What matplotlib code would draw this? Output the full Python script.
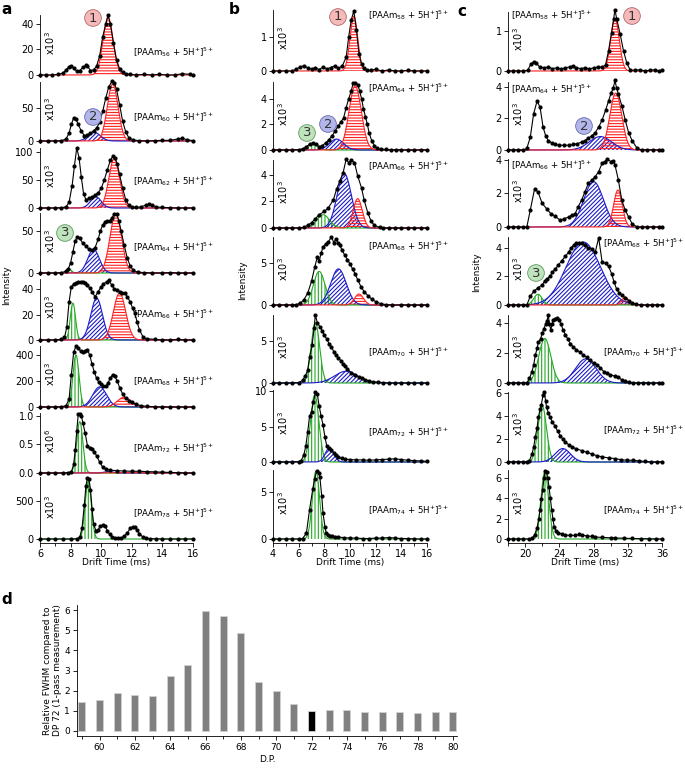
import numpy as np
import matplotlib
matplotlib.use("Agg")
import matplotlib.pyplot as plt
from matplotlib.ticker import MultipleLocator

W, H = 685, 769

plt.rcParams.update({
    "font.family": "DejaVu Sans",
    "font.size": 6.5,
    "mathtext.default": "regular",
    "hatch.linewidth": 0.8,
    "axes.linewidth": 0.6,
    "xtick.major.width": 0.6,
    "ytick.major.width": 0.6,
    "xtick.minor.width": 0.6,
    "ytick.minor.width": 0.6,
    "xtick.major.size": 3,
    "ytick.major.size": 3,
    "xtick.minor.size": 2,
    "xtick.labelsize": 7,
    "ytick.labelsize": 7,
})

# ── Data: column a (5+ ions, drift time 6-16 ms) ──────────────────────────────
# fits: (population, centre, sigma, height)
A56_T = [6.0, 6.4, 6.8, 7.2, 7.5, 7.7, 7.9, 8.0, 8.2, 8.4, 8.6, 8.8, 9.0, 9.1, 9.3, 9.5, 9.7, 9.9,
         10.1, 10.3, 10.45, 10.6, 10.8, 11.0, 11.2, 11.4, 11.6, 11.9, 12.3, 12.8, 13.3, 13.8, 14.3,
         14.8, 15.3, 15.8, 16.0]
A56_I = [0, 0, 0, 0.5, 1.5, 4, 6.5, 7, 5.5, 3, 3.5, 6, 7.5, 7, 3.5, 4, 7, 15,
         30, 40, 47, 40, 25, 12, 5, 2, 1, 0.5, 0, 0.5, 0, 0.5, 0,
         0, 1, 0.5, 0]
A56_FITS = [(1, 10.45, 0.33, 45)]

A60_T = [6.0, 6.5, 7.0, 7.4, 7.7, 7.9, 8.05, 8.2, 8.35, 8.5, 8.7, 8.9, 9.1, 9.3, 9.5, 9.7, 9.9,
         10.1, 10.3, 10.5, 10.7, 10.85, 11.0, 11.2, 11.4, 11.6, 11.8, 12.1, 12.5, 13.0, 13.5, 14.0,
         14.5, 15.0, 15.3, 15.6, 16.0]
A60_I = [0, 0, 0, 0.5, 3, 12, 25, 35, 33, 25, 15, 8, 9, 12, 15, 20, 28,
         45, 65, 82, 90, 88, 78, 55, 30, 14, 5, 1.5, 0.5, 0, 0.5, 1,
         1, 3, 4, 2, 0.5]
A60_FITS = [(2, 9.55, 0.4, 13), (1, 10.75, 0.35, 86)]

A62_T = [6.0, 6.5, 7.0, 7.4, 7.7, 7.9, 8.1, 8.25, 8.4, 8.55, 8.7, 8.85, 9.0, 9.2, 9.4, 9.6, 9.8,
         10.0, 10.2, 10.4, 10.6, 10.75, 10.9, 11.05, 11.2, 11.4, 11.6, 11.8, 12.0, 12.3, 12.6,
         12.9, 13.1, 13.3, 13.6, 14.0, 14.5, 15.0, 15.5, 16.0]
A62_I = [0, 0, 0, 0.5, 2, 10, 40, 75, 107, 90, 55, 25, 15, 17, 20, 23, 27,
         35, 50, 68, 85, 92, 90, 78, 60, 35, 15, 5, 2, 1, 2,
         5, 7, 6, 2, 1, 0.5, 0, 0, 0]
A62_FITS = [(2, 9.65, 0.35, 20), (1, 10.85, 0.35, 88)]

A64_T = [6.0, 6.5, 7.0, 7.4, 7.7, 7.85, 8.0, 8.15, 8.3, 8.45, 8.6, 8.8, 9.0, 9.2, 9.4, 9.6, 9.8,
         9.95, 10.1, 10.25, 10.4, 10.55, 10.7, 10.85, 11.0, 11.15, 11.3, 11.5, 11.7, 11.9, 12.1,
         12.4, 12.8, 13.3, 14.0, 14.5, 15.0, 15.5, 16.0]
A64_I = [0, 0, 0, 0.5, 2, 5, 12, 25, 38, 43, 41, 35, 32, 28, 27, 30, 40,
         50, 57, 60, 62, 62, 65, 70, 70, 62, 50, 33, 18, 8, 3,
         1, 0.5, 0, 0, 0.5, 0, 0, 0]
A64_FITS = [(3, 7.9, 0.15, 5), (2, 9.5, 0.38, 28), (1, 10.95, 0.38, 70)]

A66_T = [6.0, 6.5, 7.0, 7.4, 7.6, 7.75, 7.9, 8.05, 8.2, 8.35, 8.5, 8.65, 8.8, 8.95, 9.1, 9.25,
         9.4, 9.6, 9.8, 10.0, 10.15, 10.35, 10.5, 10.7, 10.85, 11.0, 11.2, 11.35, 11.55, 11.7,
         11.9, 12.05, 12.2, 12.35, 12.5, 12.75, 13.0, 13.5, 14.0, 14.5, 15.0, 15.5, 16.0]
A66_I = [0, 0, 0, 0.5, 2, 10, 30, 42, 44, 45, 46, 46, 46, 45, 43, 41,
         38, 34, 38, 42, 44, 46, 47, 43, 40, 39, 38, 37, 37, 34,
         30, 25, 21, 14, 8, 2, 1, 0.5, 0, 0, 0.5, 0, 0]
A66_FITS = [(3, 8.15, 0.17, 29), (2, 9.7, 0.38, 33), (1, 11.2, 0.4, 37)]

A68_T = [6, 6.5, 7, 7.4, 7.7, 7.9, 8.05, 8.2, 8.35, 8.5, 8.65, 8.8, 8.95, 9.1, 9.25, 9.4, 9.55,
         9.7, 9.85, 10.0, 10.15, 10.3, 10.45, 10.6, 10.75, 10.9, 11.05, 11.2, 11.4, 11.6, 11.8,
         12.0, 12.3, 12.6, 13.0, 13.5, 14, 14.5, 15, 15.5, 16]
A68_I = [0, 0, 0, 2, 10, 60, 250, 420, 470, 455, 430, 420, 435, 440, 400, 330, 270,
         220, 190, 175, 160, 160, 185, 225, 250, 235, 200, 150, 100, 70, 50,
         35, 20, 10, 5, 2, 0, 0, 0, 0, 0]
A68_FITS = [(3, 8.35, 0.2, 400), (2, 9.9, 0.45, 155), (1, 11.5, 0.45, 75)]

A72_T = [6, 6.5, 7, 7.5, 7.8, 8.05, 8.2, 8.3, 8.4, 8.5, 8.6, 8.7, 8.8, 8.95, 9.1, 9.25, 9.4,
         9.55, 9.7, 9.9, 10.1, 10.3, 10.6, 11, 11.5, 12, 12.5, 13, 13.5, 14, 14.5, 15, 15.5, 16]
A72_I = [0, 0, 0, 0, 0.005, 0.02, 0.15, 0.4, 0.73, 1.03, 1.04, 1.0, 0.88, 0.7, 0.48, 0.43, 0.42,
         0.37, 0.3, 0.19, 0.1, 0.07, 0.05, 0.04, 0.035, 0.03, 0.03, 0.025, 0.02, 0.015, 0.01,
         0.005, 0, 0]
A72_FITS = [(3, 8.6, 0.2, 0.9), (2, 10.5, 0.3, 0.025), (1, 11.5, 0.5, 0.008)]

A78_T = [6, 6.5, 7, 7.5, 8, 8.4, 8.6, 8.75, 8.9, 9.0, 9.1, 9.2, 9.3, 9.4, 9.5, 9.65, 9.8, 9.95,
         10.1, 10.25, 10.4, 10.55, 10.7, 10.9, 11.1, 11.3, 11.5, 11.7, 11.9, 12.05, 12.2, 12.35,
         12.5, 12.7, 12.9, 13.2, 13.6, 14, 14.5, 15, 15.5, 16]
A78_I = [0, 0, 0, 0, 0, 2, 20, 150, 450, 700, 800, 790, 650, 400, 200, 110, 120, 170,
         185, 170, 110, 60, 30, 15, 12, 15, 35, 80, 140, 160, 155, 120,
         70, 30, 10, 5, 2, 0, 0, 0, 0, 0]
A78_FITS = [(3, 9.15, 0.2, 760)]

# ── Data: column b (drift time 4-16 ms) ───────────────────────────────────────
B58_T = [4, 4.5, 5, 5.5, 5.8, 6.1, 6.4, 6.7, 7.0, 7.3, 7.6, 7.9, 8.2, 8.5, 8.8, 9.1, 9.4, 9.7,
         9.9, 10.1, 10.3, 10.5, 10.7, 10.9, 11.1, 11.3, 11.6, 12, 12.5, 13, 13.5, 14, 14.5, 15,
         15.5, 16]
B58_I = [0, 0, 0, 0, 0.05, 0.12, 0.15, 0.1, 0.05, 0.1, 0.04, 0.12, 0.06, 0.1, 0.15, 0.08, 0.15, 0.4,
         1.0, 1.5, 1.75, 1.2, 0.5, 0.2, 0.08, 0.04, 0.02, 0.05, 0, 0.03, 0, 0, 0.02, 0,
         0, 0]
B58_FITS = [(1, 10.3, 0.3, 1.6)]

B64_T = [4, 4.5, 5, 5.5, 6, 6.3, 6.6, 6.85, 7.1, 7.35, 7.6, 7.85, 8.1, 8.35, 8.6, 8.85, 9.1,
         9.3, 9.5, 9.7, 9.9, 10.1, 10.25, 10.4, 10.6, 10.75, 10.9, 11.05, 11.2, 11.35, 11.5,
         11.7, 11.9, 12.1, 12.4, 12.8, 13.2, 13.6, 14, 14.5, 15, 15.5, 16]
B64_I = [0, 0, 0, 0, 0.03, 0.08, 0.25, 0.45, 0.55, 0.45, 0.25, 0.35, 0.55, 0.8, 1.1, 1.5, 1.9,
         2.2, 2.5, 3.3, 4.0, 4.6, 5.25, 5.25, 5.1, 4.6, 4.0, 3.2, 2.6, 2.0, 1.3,
         0.7, 0.35, 0.12, 0.05, 0.05, 0, 0.02, 0, 0, 0, 0, 0]
B64_FITS = [(3, 7.1, 0.4, 0.5), (2, 8.95, 0.55, 0.85), (1, 10.4, 0.48, 5.0)]

B66_T = [4, 4.5, 5, 5.5, 6, 6.4, 6.7, 7.0, 7.3, 7.6, 8.0, 8.3, 8.7, 8.95, 9.2, 9.45, 9.7, 9.9,
         10.1, 10.35, 10.6, 10.9, 11.1, 11.4, 11.65, 11.9, 12.3, 12.6, 13, 13.5, 14, 14.5, 15,
         15.5, 16]
B66_I = [0, 0, 0, 0, 0, 0.05, 0.2, 0.4, 0.7, 1.0, 1.25, 1.5, 2.1, 2.9, 3.5, 4.1, 5.15, 4.9,
         5.1, 4.9, 3.9, 3.0, 2.1, 1.1, 0.5, 0.2, 0.05, 0, 0, 0, 0, 0, 0,
         0, 0]
B66_FITS = [(3, 7.9, 0.5, 1.0), (2, 9.55, 0.55, 4.1), (1, 10.6, 0.35, 2.2)]

B68_T = [4, 4.5, 5, 5.5, 5.8, 6.1, 6.4, 6.7, 7.0, 7.25, 7.45, 7.6, 7.75, 7.9, 8.1, 8.3, 8.55,
         8.75, 8.9, 9.05, 9.2, 9.4, 9.6, 9.8, 10.0, 10.2, 10.4, 10.6, 10.85, 11.1, 11.4, 11.7,
         12.0, 12.4, 12.8, 13.3, 14, 14.5, 15, 15.5, 16]
B68_I = [0, 0, 0, 0, 0.05, 0.2, 0.6, 1.4, 2.8, 4.5, 5.7, 5.2, 6.2, 6.9, 7.3, 7.5, 8.1,
         7.4, 7.9, 7.4, 7.1, 6.5, 5.9, 5.4, 4.9, 4.3, 3.7, 3.0, 2.2, 1.6, 1.1, 0.7,
         0.4, 0.15, 0.05, 0, 0, 0, 0, 0, 0]
B68_FITS = [(3, 7.6, 0.45, 4.0), (2, 9.1, 0.6, 4.3), (1, 10.7, 0.35, 1.3)]

B70_T = [4, 4.5, 5, 5.5, 6, 6.3, 6.5, 6.7, 6.85, 7.05, 7.2, 7.3, 7.45, 7.65, 7.85, 8.0, 8.2,
         8.4, 8.55, 8.75, 8.9, 9.1, 9.3, 9.45, 9.6, 9.8, 10.1, 10.4, 10.7, 10.9, 11.2, 11.5,
         11.8, 12.2, 12.6, 13, 13.5, 14, 14.5, 15, 15.5, 16]
B70_I = [0, 0, 0, 0, 0.05, 0.3, 0.8, 1.5, 3.1, 4.5, 6.5, 8.1, 7.2, 6.7, 6.2, 5.7, 5.2,
         4.6, 4.3, 3.7, 3.3, 3.0, 2.6, 2.3, 2.0, 1.7, 1.2, 0.9, 0.7, 0.6, 0.4, 0.25,
         0.15, 0.1, 0.05, 0, 0, 0, 0, 0, 0, 0]
B70_FITS = [(3, 7.3, 0.33, 7.2), (2, 9.7, 0.9, 1.4)]

B72_T = [4, 4.5, 5, 5.5, 6, 6.2, 6.4, 6.55, 6.7, 6.85, 7.0, 7.15, 7.3, 7.45, 7.6, 7.75, 7.9,
         8.05, 8.2, 8.35, 8.55, 8.75, 8.9, 9.1, 9.35, 9.6, 10, 10.5, 11, 11.5, 12, 12.5, 13,
         13.5, 14, 14.5, 15, 15.5, 16]
B72_I = [0, 0, 0, 0, 0.05, 0.2, 1.0, 2.2, 4.2, 6.5, 7.1, 8.5, 9.9, 9.6, 7.9, 6.5, 5.2,
         3.5, 2.2, 2.0, 1.7, 1.3, 1.0, 0.7, 0.5, 0.4, 0.35, 0.3, 0.3, 0.25, 0.3, 0.35, 0.4,
         0.45, 0.35, 0.25, 0.2, 0.15, 0.1]
B72_FITS = [(3, 7.25, 0.33, 9.5), (2, 8.4, 0.33, 2.0)]

B74_T = [4, 4.5, 5, 5.5, 6, 6.3, 6.6, 6.85, 7.1, 7.25, 7.4, 7.55, 7.65, 7.8, 7.9, 8.05, 8.15,
         8.3, 8.45, 8.6, 8.8, 9.1, 9.5, 10, 10.5, 11, 11.5, 12, 12.5, 13, 13.5, 14, 14.5, 15,
         15.5, 16]
B74_I = [0, 0, 0, 0, 0, 0.05, 0.6, 3.1, 5.3, 6.4, 7.2, 7.0, 6.6, 4.5, 2.7, 1.3, 0.6,
         0.4, 0.35, 0.3, 0.25, 0.2, 0.15, 0.1, 0.1, 0.05, 0.05, 0.1, 0.1, 0.15, 0.1, 0.05, 0.05, 0,
         0, 0]
B74_FITS = [(3, 7.35, 0.28, 7.2)]

# ── Data: column c (drift time 18-36 ms) ──────────────────────────────────────
C58_T = [18, 18.6, 19.2, 19.8, 20.3, 20.7, 21.0, 21.3, 21.7, 22.2, 22.7, 23.2, 23.7, 24.2, 24.7,
         25.2, 25.6, 26.0, 26.5, 27.0, 27.5, 28.0, 28.5, 29.0, 29.4, 29.75, 30.1, 30.35, 30.5,
         30.7, 31.1, 31.5, 31.9, 32.3, 32.8, 33.4, 34.0, 34.6, 35.2, 35.6, 36]
C58_I = [0, 0, 0, 0, 0.02, 0.18, 0.23, 0.2, 0.1, 0.08, 0.1, 0.06, 0.08, 0.05, 0.08,
         0.1, 0.13, 0.08, 0.06, 0.08, 0.05, 0.08, 0.1, 0.1, 0.15, 0.5, 0.95, 1.3, 1.53,
         1.3, 0.93, 0.5, 0.19, 0.02, 0.02, 0.03, 0, 0.02, 0.03, 0, 0.02]
C58_FITS = [(1, 30.5, 0.5, 1.3)]

C64_T = [18, 18.6, 19.2, 19.8, 20.2, 20.6, 21.0, 21.4, 21.75, 22.1, 22.4, 22.7, 23.1, 23.5, 24.0,
         24.5, 25.1, 25.6, 26.1, 26.6, 27.0, 27.4, 27.8, 28.2, 28.6, 29.0, 29.4, 29.75, 30.05,
         30.3, 30.5, 30.7, 30.9, 31.3, 31.7, 32.1, 32.5, 33.1, 33.7, 34.3, 35, 35.6, 36]
C64_I = [0, 0, 0, 0, 0.1, 0.8, 2.3, 3.1, 2.7, 1.45, 0.9, 0.6, 0.45, 0.35, 0.3,
         0.3, 0.3, 0.35, 0.4, 0.5, 0.6, 0.75, 0.9, 1.1, 1.45, 1.9, 2.5, 3.1, 3.6,
         3.9, 4.4, 3.9, 3.55, 2.8, 1.9, 1.1, 0.6, 0.1, 0, 0.02, 0, 0, 0]
C64_FITS = [(2, 28.8, 1.3, 0.85), (1, 30.6, 0.7, 3.6)]

C66_T = [18, 18.6, 19.2, 19.8, 20.2, 20.6, 21.1, 21.5, 22.0, 22.5, 23.0, 23.5, 24.1, 24.6, 25.1,
         25.5, 25.85, 26.2, 26.6, 27.0, 27.4, 27.8, 28.2, 28.6, 29.0, 29.3, 29.6, 30.0, 30.3,
         30.5, 30.9, 31.3, 31.7, 32.1, 32.5, 33.1, 33.7, 34.3, 35, 35.6, 36]
C66_I = [0, 0, 0, 0, 0, 1.0, 2.25, 2.1, 1.4, 1.1, 0.8, 0.65, 0.4, 0.5, 0.6,
         0.7, 0.8, 1.2, 1.6, 2.1, 2.6, 2.8, 3.0, 3.3, 3.8, 3.9, 4.05, 3.9, 3.95,
         3.7, 2.8, 1.6, 1.0, 0.6, 0.2, 0, 0, 0, 0, 0, 0]
C66_FITS = [(2, 28.0, 1.15, 2.7), (1, 30.85, 0.5, 2.2)]

C68_T = [18, 18.6, 19.2, 19.8, 20.2, 20.6, 21.0, 21.5, 22.0, 22.3, 22.6, 22.9, 23.2, 23.5, 23.9,
         24.3, 24.7, 25.1, 25.4, 25.7, 26.0, 26.3, 26.6, 27.0, 27.4, 27.8, 28.2, 28.6, 29.0,
         29.4, 29.75, 30.1, 30.4, 30.7, 31.0, 31.3, 31.7, 32.1, 32.5, 33, 33.6, 34.2, 34.8,
         35.4, 36]
C68_I = [0, 0, 0, 0, 0, 0.6, 0.95, 1.2, 1.4, 1.7, 1.85, 2.0, 2.3, 2.5, 2.8,
         3.1, 3.4, 3.7, 4.0, 4.2, 4.3, 4.3, 4.3, 4.2, 4.0, 3.9, 3.7, 4.7, 3.0,
         2.9, 2.7, 2.2, 1.6, 1.1, 0.85, 0.7, 0.5, 0.3, 0.15, 0.05, 0, 0, 0,
         0, 0]
C68_FITS = [(3, 21.5, 0.5, 0.75), (2, 26.8, 2.0, 4.4), (1, 31.7, 0.4, 0.55)]

C70_T = [18, 18.6, 19.2, 19.8, 20.2, 20.5, 20.8, 21.0, 21.2, 21.4, 21.55, 21.8, 22.0, 22.2,
         22.4, 22.55, 22.7, 22.85, 23.0, 23.15, 23.3, 23.5, 23.7, 23.95, 24.2, 24.45, 24.7,
         25.0, 25.3, 25.6, 26.0, 26.4, 26.8, 27.2, 27.6, 28.0, 28.4, 28.8, 29.2, 29.6, 29.95,
         30.5, 30.9, 31.3, 31.7, 32.1, 32.6, 33.2, 33.8, 34.4, 35, 35.6, 36]
C70_I = [0, 0, 0, 0, 0, 0.3, 0.75, 1.2, 1.85, 2.3, 2.7, 2.9, 3.3, 3.6,
         3.9, 4.1, 4.5, 3.9, 3.5, 3.9, 4.2, 4.25, 4.3, 4.15, 3.9, 3.5, 3.2,
         2.9, 2.6, 2.4, 2.2, 2.05, 1.85, 1.7, 1.5, 1.35, 1.2, 1.0, 0.75, 0.65, 0.55,
         0.45, 0.4, 0.2, 0.12, 0.05, 0, 0, 0, 0, 0, 0, 0]
C70_FITS = [(3, 22.3, 0.7, 2.95), (2, 27.1, 1.2, 1.6)]

C72_T = [18, 18.6, 19.2, 19.8, 20.2, 20.5, 20.8, 21.0, 21.2, 21.4, 21.55, 21.75, 21.9, 22.1,
         22.25, 22.4, 22.5, 22.7, 22.9, 23.2, 23.5, 23.8, 24.1, 24.4, 24.7, 25.1, 25.5, 26.0,
         26.6, 27.2, 27.8, 28.4, 29.0, 29.8, 30.5, 31.2, 31.9, 32.6, 33.3, 34, 34.7, 35.4, 36]
C72_I = [0, 0, 0, 0, 0, 0.1, 0.7, 1.3, 2.2, 3.0, 3.9, 4.6, 5.0, 5.85,
         6.1, 5.3, 4.8, 4.3, 3.9, 3.5, 3.1, 2.7, 2.3, 2.0, 1.75, 1.5, 1.3, 1.15,
         1.0, 0.85, 0.7, 0.55, 0.45, 0.35, 0.3, 0.2, 0.15, 0.15, 0.1, 0.05, 0, 0, 0]
C72_FITS = [(3, 22.0, 0.5, 4.9), (2, 24.4, 0.9, 1.17)]

C74_T = [18, 18.6, 19.2, 19.8, 20.4, 20.8, 21.1, 21.4, 21.6, 21.75, 21.9, 22.05, 22.2, 22.35,
         22.5, 22.65, 22.8, 22.95, 23.1, 23.25, 23.4, 23.6, 23.9, 24.3, 24.7, 25.2, 25.85,
         26.3, 26.6, 27.2, 27.8, 28.2, 29, 30, 30.5, 31.5, 32.5, 33.5, 34.5, 35.3, 36]
C74_I = [0, 0, 0, 0, 0, 0.05, 0.4, 1.1, 2.0, 2.9, 3.9, 4.8, 6.0, 6.7,
         6.6, 6.0, 5.1, 4.0, 2.9, 2.0, 1.2, 0.8, 0.6, 0.5, 0.4, 0.35, 0.35,
         0.45, 0.4, 0.3, 0.25, 0.2, 0.15, 0.12, 0.1, 0.08, 0.05, 0.03, 0.02, 0, 0]
C74_FITS = [(3, 22.3, 0.45, 6.6)]

# ── Data: panel d ─────────────────────────────────────────────────────────────
DP = [59, 60, 61, 62, 63, 64, 65, 66, 67, 68, 69, 70, 71, 72, 73, 74, 75, 76, 77, 78, 79, 80]
REL_FWHM = [1.45, 1.52, 1.88, 1.8, 1.72, 2.73, 3.27, 5.97, 5.7, 4.88, 2.45, 1.98, 1.35, 1.0,
            1.05, 1.05, 0.92, 0.92, 0.92, 0.9, 0.95, 0.95]
REF_DP = 72

A_DP = [56, 60, 62, 64, 66, 68, 72, 78]
B_DP = [58, 64, 66, 68, 70, 72, 74]
C_DP = [58, 64, 66, 68, 70, 72, 74]
A_TRACES = [(A56_T, A56_I, A56_FITS), (A60_T, A60_I, A60_FITS), (A62_T, A62_I, A62_FITS),
            (A64_T, A64_I, A64_FITS), (A66_T, A66_I, A66_FITS), (A68_T, A68_I, A68_FITS),
            (A72_T, A72_I, A72_FITS), (A78_T, A78_I, A78_FITS)]
B_TRACES = [(B58_T, B58_I, B58_FITS), (B64_T, B64_I, B64_FITS), (B66_T, B66_I, B66_FITS),
            (B68_T, B68_I, B68_FITS), (B70_T, B70_I, B70_FITS), (B72_T, B72_I, B72_FITS),
            (B74_T, B74_I, B74_FITS)]
C_TRACES = [(C58_T, C58_I, C58_FITS), (C64_T, C64_I, C64_FITS), (C66_T, C66_I, C66_FITS),
            (C68_T, C68_I, C68_FITS), (C70_T, C70_I, C70_FITS), (C72_T, C72_I, C72_FITS),
            (C74_T, C74_I, C74_FITS)]

# ── Layout (pixels): rows = (top, zero line, ymax, yticks) ───────────────────
A_ROWS = [(15, 75, 47, [0, 20, 40]), (82, 141, 89, [0, 50]), (148, 208, 107, [0, 50, 100]),
          (213, 273, 71, [0, 50]), (279, 340, 48, [0, 20, 40]), (346, 407, 470, [0, 200, 400]),
          (413, 473, 1.05, [0.0, 0.5, 1.0]), (477, 539, 815, [0, 500])]
B_ROWS = [(10, 71, 1.78, [0, 1]), (82, 150, 5.3, [0, 2, 4]), (160, 228, 5.1, [0, 2, 4]),
          (237, 305, 8.1, [0, 5]), (315, 383, 8.1, [0, 5]), (390, 462, 10.2, [0, 5, 10]),
          (470, 539, 7.3, [0, 5])]
C_ROWS = [(12, 71, 1.47, [0, 1]), (82, 150, 4.3, [0, 2, 4]), (159, 227, 4.05, [0, 2, 4]),
          (237, 305, 4.75, [0, 2, 4]), (315, 383, 4.5, [0, 2, 4]), (392, 462, 6.1, [0, 2, 4, 6]),
          (470, 539, 6.8, [0, 2, 4, 6])]

A_LABELS = [(133, 52), (133, 117), (133, 181), (133, 247), (133, 314), (133, 381), (133, 448), (133, 513)]
B_LABELS = [(368, 15), (368, 88), (368, 166), (368, 246), (368, 352), (368, 432), (368, 510)]
C_LABELS = [(511, 15), (511, 89), (511, 165), (603, 243), (603, 352), (603, 430), (603, 510)]

FIT_STYLE = {
    1: dict(color="#ff2020", hatch="------"),
    2: dict(color="#1c1cc8", hatch="////////"),
    3: dict(color="#25a825", hatch="|||||"),
}
CIRCLE_COL = {1: ("#f6b9b9", "#b06a6a"), 2: ("#b3b6ea", "#6a6ab0"), 3: ("#bfe3bd", "#5f9a5f")}


def gauss(x, c, s, h):
    return h * np.exp(-0.5 * ((x - c) / s) ** 2)


def fig_ax(left, top, right, bottom):
    return fig.add_axes([left / W, 1 - bottom / H, (right - left) / W, (bottom - top) / H])


def draw_column(left, right, xlim, major, minor, rows, traces, dps, labels, sci):
    xg = np.linspace(xlim[0], xlim[1], 800)
    for k, ((top, zero, ymax, yt), (t, i, fits), dp, (lx, ly)) in enumerate(
            zip(rows, traces, dps, labels)):
        last = k == len(rows) - 1
        bottom = zero + (4 if last else 2)
        ax = fig_ax(left, top, right, bottom)
        ppu = (zero - top) / ymax
        ax.set_xlim(*xlim)
        ax.set_ylim(-(bottom - zero) / ppu, ymax)

        for pop, c, s, h in sorted(fits, key=lambda f: -f[0]):
            st = FIT_STYLE[pop]
            yg = gauss(xg, c, s, h)
            ax.fill_between(xg, 0, yg, facecolor="none", edgecolor=st["color"],
                            hatch=st["hatch"], linewidth=0, zorder=1)
            ax.plot(xg, yg, color=st["color"], lw=0.8, zorder=2)
        ax.plot(t, i, color="black", lw=0.8, marker="o", ms=2.0, zorder=3, clip_on=False)

        for side in ("top", "right"):
            ax.spines[side].set_visible(False)
        ax.set_yticks(yt)
        if isinstance(yt[1], float):
            ax.set_yticklabels([f"{v:.1f}" for v in yt])
        ax.tick_params(axis="y", direction="out", pad=1.5)
        if last:
            ax.xaxis.set_major_locator(MultipleLocator(major))
            ax.xaxis.set_minor_locator(MultipleLocator(minor))
            ax.tick_params(axis="x", which="both", direction="out", pad=1.5)
        else:
            ax.spines["bottom"].set_visible(False)
            ax.set_xticks([])

        exp = "6" if (sci and k == 6) else "3"
        ax.text(0.065, 0.55, "x10$^{%s}$" % exp, transform=ax.transAxes, rotation=90,
                ha="center", va="center", fontsize=7)
        fig.text(lx / W, 1 - ly / H, r"[PAAm$_{%d}$ + 5H$^{+}$]$^{5+}$" % dp,
                 ha="left", va="center", fontsize=6.2)
    fig.text((left + right) / 2 / W, 1 - 563 / H, "Drift Time (ms)", ha="center",
             va="center", fontsize=6.5)


def circle(x, y, n):
    fc, ec = CIRCLE_COL[n]
    fig.text(x / W, 1 - y / H, str(n), ha="center", va="center", fontsize=9.5, color="#333333",
             bbox=dict(boxstyle="circle,pad=0.14", fc=fc, ec=ec, lw=0.6))


fig = plt.figure(figsize=(W / 100, H / 100), dpi=100)

draw_column(40, 193, (6, 16), 2, 1, A_ROWS, A_TRACES, A_DP, A_LABELS, sci=True)
draw_column(273, 427, (4, 16), 2, 1, B_ROWS, B_TRACES, B_DP, B_LABELS, sci=False)
draw_column(508, 662, (18, 36), 4, 2, C_ROWS, C_TRACES, C_DP, C_LABELS, sci=False)

for x, y in [(7, 285), (243, 280), (477, 272)]:
    fig.text(x / W, 1 - y / H, "Intensity", rotation=90, ha="center", va="center", fontsize=6.5)

circle(93, 18, 1); circle(93, 117, 2); circle(65, 233, 3)
circle(338, 17, 1); circle(328, 124, 2); circle(307, 133, 3)
circle(632, 16, 1); circle(584, 126, 2); circle(536, 273, 3)

for x, y, s in [(7, 10, "a"), (234, 10, "b"), (462, 12, "c"), (7, 600, "d")]:
    fig.text(x / W, 1 - y / H, s, ha="center", va="center", fontsize=11, fontweight="bold")

# ── Panel d ──
axd = fig_ax(77, 605, 457, 736)
colors = ["black" if d == REF_DP else "#808080" for d in DP]
axd.bar(DP, REL_FWHM, width=0.4, color=colors, edgecolor="#d0d0d0", linewidth=0.6)
axd.set_xlim(58.72, 80.23)
axd.set_ylim(-0.25, 6.25)
axd.xaxis.set_major_locator(MultipleLocator(2))
axd.xaxis.set_minor_locator(MultipleLocator(1))
axd.yaxis.set_major_locator(MultipleLocator(1))
axd.tick_params(which="both", direction="out", pad=2, labelsize=6.5)
for side in ("top", "right"):
    axd.spines[side].set_visible(False)
axd.set_xlabel("D.P.", fontsize=6.5, labelpad=2)
axd.set_ylabel("Relative FWHM compared to\nDP 72 (1-pass measurement)", fontsize=6.5,
               labelpad=2, linespacing=1.1)

fig.savefig("out.png", dpi=100)
